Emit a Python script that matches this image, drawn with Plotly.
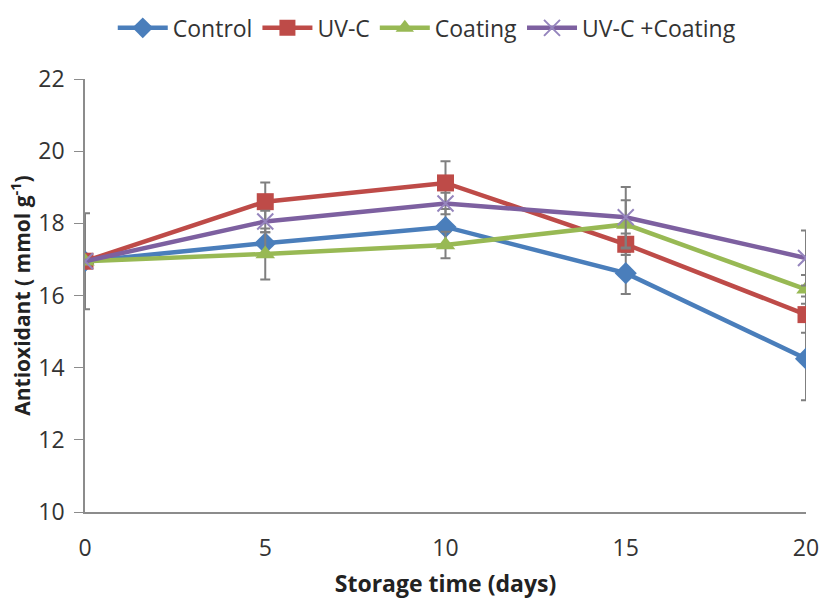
import plotly.graph_objects as go

days = [0, 5, 10, 15, 20]
series_names = ["Control", "UV-C", "Coating", "UV-C +Coating"]
control = [16.95, 17.45, 17.9, 16.62, 14.25]
uvc = [16.95, 18.6, 19.12, 17.42, 15.47]
coating = [16.95, 17.15, 17.4, 17.97, 16.17]
uvc_coating = [16.95, 18.05, 18.55, 18.17, 17.04]

control_err = [1.33, 0.3, 0.5, 0.58, 1.15]
uvc_err = [0.0, 0.53, 0.6, 0.3, 0.5]
coating_err = [0.0, 0.71, 0.37, 0.67, 0.4]
uvc_coating_err = [0.0, 0.3, 0.3, 0.84, 0.76]

colors = ["#4a7ebb", "#be4b48", "#98b954", "#7d60a0"]
symbols = ["diamond", "square", "triangle-up", "x-thin"]
sizes = [17, 17, 17, 16]
values = [control, uvc, coating, uvc_coating]
errs = [control_err, uvc_err, coating_err, uvc_coating_err]

fig = go.Figure()
for name, y, e, c, s, sz in zip(series_names, values, errs, colors, symbols, sizes):
    marker = dict(symbol=s, size=sz, color=c)
    if s == "x-thin":
        marker["line"] = dict(color="#9585bd", width=2)
    fig.add_trace(go.Scatter(
        x=days, y=y, name=name, mode="lines+markers",
        line=dict(color=c, width=4.5),
        marker=marker,
        error_y=dict(type="data", array=e, visible=True, color="#7f7f7f", thickness=2, width=5),
    ))

font_family = "Open Sans, Arial"
fs = 23
fig.update_layout(
    width=822, height=599,
    margin=dict(l=85, r=16, t=79, b=87, autoexpand=False),
    plot_bgcolor="white", paper_bgcolor="white",
    font=dict(family=font_family, size=fs, color="#333333"),
    showlegend=True,
    legend=dict(orientation="h", x=0.474, xanchor="center", y=1.118, yanchor="middle",
                font=dict(size=fs, color="#333333"), tracegroupgap=0, itemwidth=50),
    xaxis=dict(range=[0, 20], tickvals=days, ticks="", showgrid=False, zeroline=False,
               showline=True, linecolor="#8c8c8c", linewidth=1.5, ticklabelstandoff=15,
               tickfont=dict(size=fs, color="#333333"),
               title=dict(text="<b>Storage time (days)</b>", font=dict(size=fs, color="#222222"), standoff=21)),
    yaxis=dict(range=[10, 22], tickvals=[10, 12, 14, 16, 18, 20, 22], ticks="outside", ticklen=9,
               tickcolor="#8c8c8c", showgrid=False, zeroline=False,
               showline=True, linecolor="#8c8c8c", linewidth=1.5, ticklabelstandoff=5,
               tickfont=dict(size=fs, color="#333333"),
               title=dict(text="<b>Antioxidant ( mmol g<sup>-1</sup>)</b>", font=dict(size=21, color="#222222"), standoff=2)),
)

fig.write_html("out.html")
